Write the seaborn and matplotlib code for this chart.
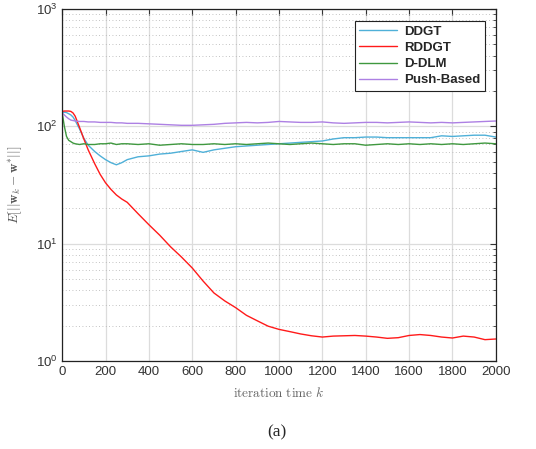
import numpy as np
import pandas as pd
import matplotlib
matplotlib.use("Agg")
import matplotlib.pyplot as plt
import seaborn as sns
from matplotlib.ticker import LogLocator, NullFormatter

# iteration grid (finer at the start where curves move fast)
iters = [0, 10, 20, 30, 40, 50, 60, 80, 100, 120, 150, 175, 200, 225, 250, 275, 300,
         350, 400, 450, 500, 550, 600, 650, 700, 750, 800, 850, 900, 950, 1000,
         1050, 1100, 1150, 1200, 1250, 1300, 1350, 1400, 1450, 1500, 1550, 1600,
         1650, 1700, 1750, 1800, 1850, 1900, 1950, 2000]

ddgt = [130, 132, 131, 128, 125, 120, 112, 95, 79, 69, 61, 56, 52, 49, 47, 49, 52,
        55, 56, 58, 59, 61, 63, 60, 63, 65, 67, 68, 69, 70, 71,
        72, 73, 74, 75, 78, 80, 80, 81, 81, 80, 80, 80,
        80, 80, 83, 82, 83, 84, 84, 81]

rddgt = [134, 135, 135, 135, 134, 130, 122, 98, 78, 63, 48, 39, 33, 29, 26, 24, 22.5,
         18, 14.5, 11.8, 9.4, 7.7, 6.2, 4.8, 3.8, 3.25, 2.85, 2.45, 2.2, 1.98, 1.86,
         1.78, 1.7, 1.64, 1.6, 1.63, 1.64, 1.65, 1.63, 1.6, 1.56, 1.58, 1.65,
         1.68, 1.65, 1.6, 1.57, 1.63, 1.6, 1.52, 1.54]

ddlm = [130, 100, 82, 76, 74, 72, 71, 70, 71, 70, 70, 71, 71, 72, 70, 71, 71,
        70, 71, 69, 70, 71, 70, 70, 71, 70, 71, 70, 71, 72, 71,
        70, 71, 72, 71, 70, 71, 71, 69, 70, 71, 70, 71,
        70, 71, 70, 71, 70, 71, 72, 71]

push = [130, 125, 120, 116, 113, 112, 111, 110, 110, 109, 109, 108, 108, 108, 107, 107, 106,
        106, 105, 104, 103, 102, 102, 103, 104, 106, 107, 108, 107, 108, 110,
        109, 108, 108, 109, 107, 106, 107, 108, 108, 107, 108, 109,
        108, 107, 108, 107, 108, 109, 110, 111]

methods = ["DDGT", "RDDGT", "D-DLM", "Push-Based"]
colors = ["#4fb0d8", "#ff1a1a", "#3f983f", "#ad80e3"]

df = pd.DataFrame({
    "k": iters * 4,
    "err": ddgt + rddgt + ddlm + push,
    "method": [m for m in methods for _ in iters],
})

sns.set_style("white")
plt.rcParams["font.family"] = ["Liberation Sans", "DejaVu Sans"]

fig = plt.figure(figsize=(5.36, 4.49), dpi=100)
ax = fig.add_axes([0.116, 0.196, 0.809, 0.784])

sns.lineplot(data=df, x="k", y="err", hue="method", hue_order=methods,
             palette=colors, linewidth=1.0, ax=ax, legend=False)

ax.set_yscale("log")
ax.set_xlim(0, 2000)
ax.set_ylim(1, 1000)
ax.set_xticks(range(0, 2001, 200))
ax.yaxis.set_major_locator(LogLocator(base=10, numticks=10))
ax.yaxis.set_minor_locator(LogLocator(base=10, subs=np.arange(2, 10), numticks=20))
ax.yaxis.set_minor_formatter(NullFormatter())

# MATLAB-ish grid
ax.grid(True, which="major", color="#dcdcdc", linewidth=0.9, linestyle="-")
ax.grid(True, which="minor", axis="y", color="#b0b0b0", linewidth=0.6, linestyle=(0, (1, 3)))
ax.set_axisbelow(True)

ax.tick_params(which="both", direction="in", top=True, right=True,
               labelsize=9.5, labelcolor="#333333", color="#333333")
ax.tick_params(which="major", length=4)
ax.tick_params(which="minor", length=2)
for s in ax.spines.values():
    s.set_color("#222222")
    s.set_linewidth(0.9)

ax.set_xlabel(r"$\mathrm{iteration\ time}\ k$", fontsize=9.5, color="#666666",
              math_fontfamily="cm", labelpad=6)
ax.set_ylabel(r"$E[||\mathbf{w}_k-\mathbf{w}^{*}||]$", fontsize=9.5, color="#555555",
              math_fontfamily="cm", labelpad=8)

handles = [plt.Line2D([], [], color=c, linewidth=1.0) for c in colors]
leg = ax.legend(handles, methods, loc="upper right", bbox_to_anchor=(0.975, 0.966),
                borderaxespad=0, fancybox=False, framealpha=1, edgecolor="#222222",
                prop={"weight": "bold", "size": 9.5}, handlelength=2.9,
                labelspacing=0.3, borderpad=0.35, handletextpad=0.5)
leg.get_frame().set_linewidth(0.8)

fig.text(0.516, 1 - 432 / 449, "(a)", family="Liberation Serif", fontsize=12.5,
         ha="center", va="center")

fig.savefig("out.png", dpi=100)
